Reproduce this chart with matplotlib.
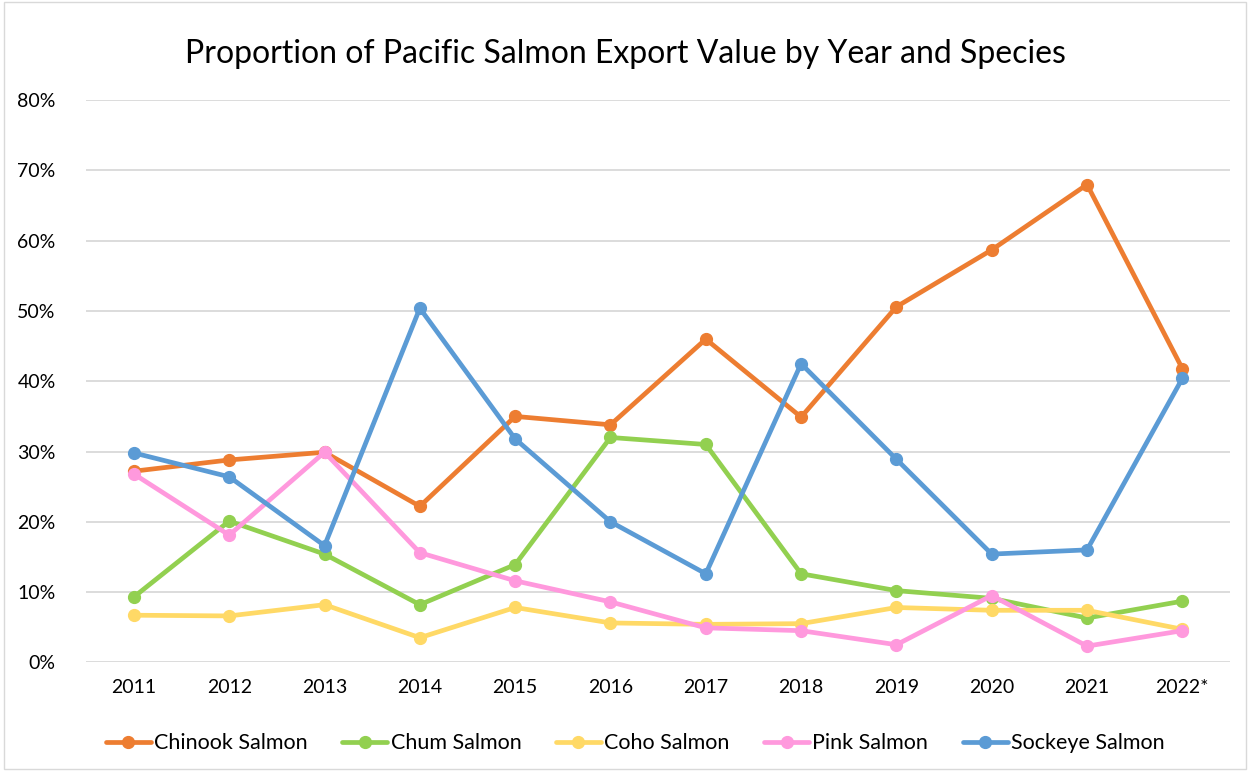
"""Proportion of Pacific salmon export value by year and species."""

import matplotlib
matplotlib.use("Agg")
import matplotlib.pyplot as plt
from matplotlib.patches import Rectangle
from matplotlib.ticker import FuncFormatter

years = ["2011", "2012", "2013", "2014", "2015", "2016",
         "2017", "2018", "2019", "2020", "2021", "2022*"]

chinook = [27.2, 28.8, 29.9, 22.2, 35.0, 33.8, 46.0, 34.9, 50.6, 58.7, 68.0, 41.8]
chum    = [9.3, 20.1, 15.4, 8.2, 13.9, 32.0, 31.0, 12.6, 10.2, 9.1, 6.3, 8.7]
coho    = [6.7, 6.6, 8.2, 3.5, 7.8, 5.6, 5.4, 5.5, 7.8, 7.4, 7.4, 4.7]
pink    = [26.8, 18.1, 29.9, 15.6, 11.6, 8.6, 4.9, 4.5, 2.5, 9.5, 2.3, 4.5]
sockeye = [29.8, 26.4, 16.6, 50.4, 31.8, 20.0, 12.6, 42.5, 28.9, 15.4, 16.0, 40.4]

series = [
    ("Chinook Salmon", chinook, "#ED7D31"),
    ("Chum Salmon", chum, "#92D050"),
    ("Coho Salmon", coho, "#FFD966"),
    ("Pink Salmon", pink, "#FF99DD"),
    ("Sockeye Salmon", sockeye, "#5B9BD5"),
]

plt.rcParams["font.family"] = ["Lato", "DejaVu Sans"]

fig = plt.figure(figsize=(12.5, 7.71), dpi=100)
ax = fig.add_axes([0.069, 0.141, 0.915, 0.729])

x = range(len(years))
for name, vals, color in series:
    ax.plot(x, vals, color=color, lw=3.4, marker="o", ms=8.5,
            label=name, solid_capstyle="round", solid_joinstyle="round")

ax.set_xlim(-0.5, len(years) - 0.5)
ax.set_ylim(0, 80)
ax.set_yticks(range(0, 81, 10))
ax.yaxis.set_major_formatter(FuncFormatter(lambda v, _: f"{v:.0f}%"))
ax.set_xticks(list(x))
ax.set_xticklabels(years)
ax.grid(axis="y", color="#D9D9D9", lw=1.3)
ax.set_axisbelow(True)
for s in ax.spines.values():
    s.set_visible(False)
ax.tick_params(length=0, labelsize=14, colors="black", pad=12)
ax.tick_params(axis="y", pad=22)

fig.suptitle("Proportion of Pacific Salmon Export Value by Year and Species",
             y=0.95, fontsize=23)

ax.legend(loc="upper center", bbox_to_anchor=(0.48, -0.092), ncol=5,
          frameon=False, fontsize=15.5, handlelength=2.1, handletextpad=0.15,
          columnspacing=1.6)

fig.patches.append(Rectangle((0.003, 0.003), 0.994, 0.994, transform=fig.transFigure,
                             fill=False, ec="#D9D9D9", lw=1))

fig.savefig("out.png", dpi=100)
